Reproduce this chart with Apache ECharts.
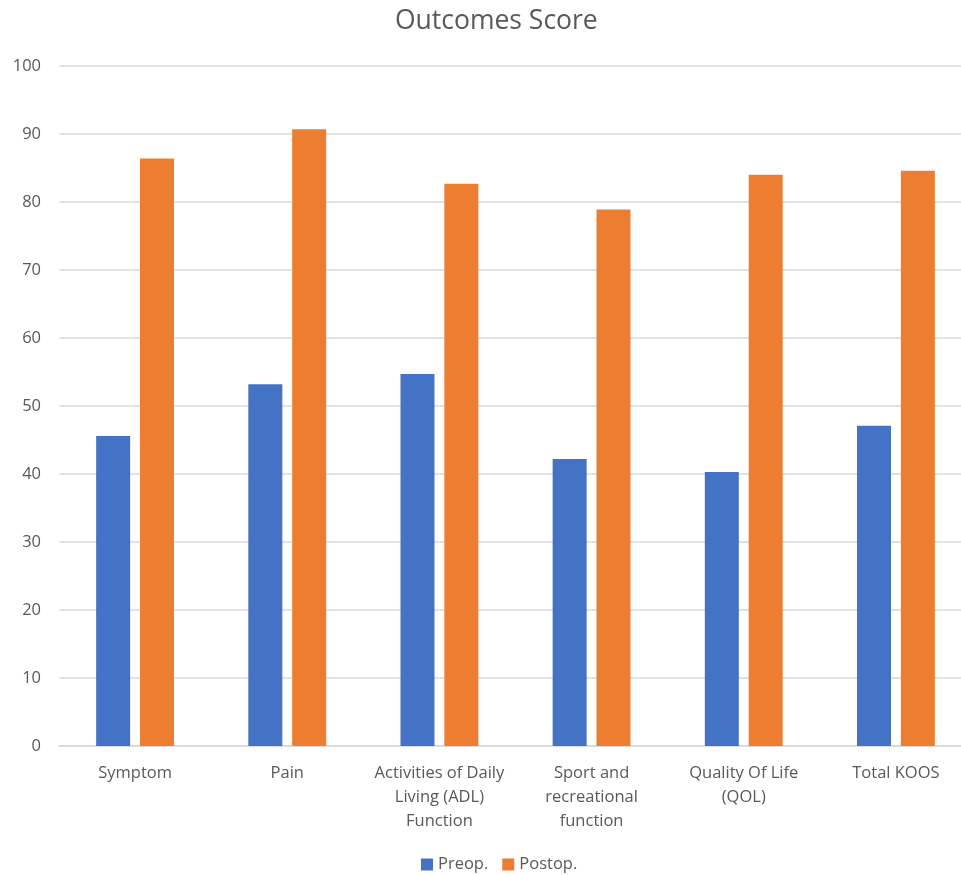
<!DOCTYPE html>
<html>
<head>
<meta charset="utf-8">
<script src="https://cdn.jsdelivr.net/npm/echarts@6/dist/echarts.min.js"></script>
<style>html,body{margin:0;padding:0;background:#fff;overflow:hidden;}#c{width:972px;height:875px;}</style>
</head>
<body>
<div id="c"></div>
<script>
var categories = ["Symptom", "Pain", "Activities of Daily\nLiving (ADL)\nFunction", "Sport and\nrecreational\nfunction", "Quality Of Life\n(QOL)", "Total KOOS"];
var preop = [45.6, 53.2, 54.7, 42.2, 40.3, 47.1];
var postop = [86.4, 90.7, 82.7, 78.9, 84.0, 84.6];
var seriesNames = ["Preop.", "Postop."];
var colors = ["#4472C4", "#ED7D31"];

var font = "'Open Sans', 'Noto Sans', sans-serif";
var chart = echarts.init(document.getElementById('c'), null, {renderer: 'canvas'});
chart.setOption({
  animation: false,
  color: colors,
  title: {
    text: "Outcomes Score",
    left: 390,
    top: 3,
    textStyle: {fontFamily: font, fontSize: 26.5, fontWeight: 'normal', color: '#595959'}
  },
  legend: {
    top: 851,
    left: 416,
    itemWidth: 12,
    itemHeight: 12,
    itemGap: 14,
    icon: 'rect',
    textStyle: {fontFamily: font, fontSize: 16.5, color: '#595959'},
    data: seriesNames
  },
  grid: {left: 59, right: 0, top: 66, bottom: 129, containLabel: false},
  xAxis: {
    type: 'category',
    data: categories,
    axisTick: {show: false},
    axisLine: {lineStyle: {color: '#D9D9D9', width: 1.5}},
    axisLabel: {fontFamily: font, fontSize: 16.5, color: '#595959', margin: 15, lineHeight: 24, interval: 0}
  },
  yAxis: {
    type: 'value',
    min: 0,
    max: 100,
    interval: 10,
    axisLine: {show: false},
    axisTick: {show: false},
    splitLine: {lineStyle: {color: '#D9D9D9', width: 1.5}},
    axisLabel: {fontFamily: font, fontSize: 16.5, color: '#595959', margin: 18}
  },
  series: [
    {name: seriesNames[0], type: 'bar', data: preop, barWidth: 34, barGap: '29%'},
    {name: seriesNames[1], type: 'bar', data: postop, barWidth: 34, barGap: '29%'}
  ]
});
</script>
</body>
</html>
